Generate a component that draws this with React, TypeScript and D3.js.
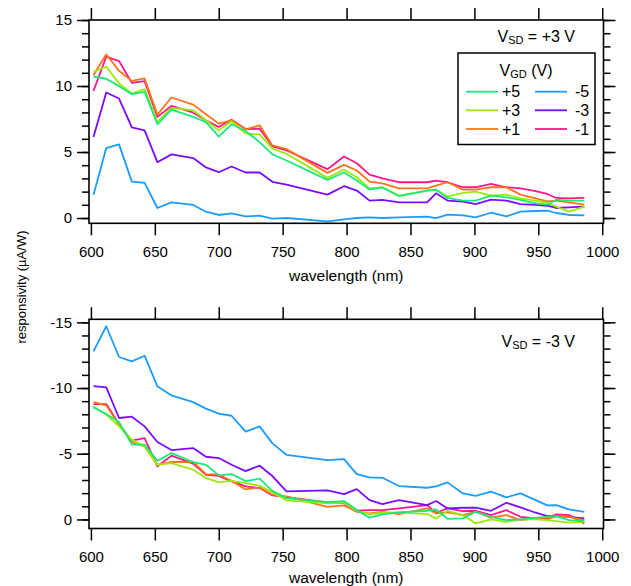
import { useEffect, useRef } from 'react';
import * as d3 from 'd3';

// wavelength grid (nm) shared by every trace
const wavelength = [602, 612, 622, 632, 642, 652, 663, 680, 690, 700, 710, 721, 732, 742, 753, 785, 798, 808, 818, 828, 841, 863, 870, 879, 891, 901, 913, 925, 936, 948, 957, 964, 974, 986];

const gateLabels = ['+5', '+3', '+1', '-5', '-3', '-1'];
const gateColors = ['#19e97c', '#97ec08', '#ff7417', '#1c9bff', '#7a0cff', '#ff168f'];

// V_SD = +3 V, responsivity (uA/W)
const posP5 = [10.72, 10.55, 9.99, 9.38, 9.56, 7.10, 8.21, 7.66, 7.27, 6.16, 7.10, 6.59, 5.75, 4.82, 4.36, 2.89, 3.45, 2.84, 2.15, 2.33, 1.65, 2.08, 2.15, 1.52, 1.32, 1.32, 1.70, 1.57, 1.37, 1.11, 1.01, 1.39, 1.32, 1.32];
const posP3 = [11.08, 11.46, 10.19, 9.43, 9.76, 7.27, 8.34, 8.16, 7.40, 6.64, 7.33, 6.39, 6.34, 5.25, 4.87, 3.04, 3.66, 3.09, 2.25, 2.33, 1.70, 2.08, 2.13, 1.62, 1.90, 2.00, 1.70, 1.77, 1.49, 1.32, 1.14, 0.86, 0.48, 0.86];
const posP1 = [10.82, 12.40, 11.15, 10.39, 10.57, 7.83, 9.13, 8.59, 7.86, 7.15, 7.40, 6.72, 7.02, 5.50, 5.22, 3.42, 4.03, 3.60, 2.76, 2.63, 2.25, 2.25, 2.46, 2.71, 2.15, 2.15, 2.33, 2.33, 1.77, 1.49, 1.26, 1.32, 1.19, 1.01];
const posM5 = [1.77, 5.30, 5.58, 2.76, 2.66, 0.76, 1.19, 0.99, 0.48, 0.23, 0.35, 0.13, 0.18, -0.05, 0.0, -0.25, -0.10, 0.0, 0.05, 0.0, 0.05, 0.10, 0.0, 0.25, 0.20, 0.05, 0.40, 0.12, 0.48, 0.53, 0.56, 0.38, 0.23, 0.20];
const posM3 = [6.13, 9.51, 9.05, 6.87, 6.64, 4.23, 4.82, 4.54, 3.83, 3.47, 3.90, 3.45, 3.45, 2.74, 2.53, 1.77, 2.41, 2.08, 1.32, 1.37, 1.19, 1.19, 1.87, 1.32, 1.24, 1.06, 1.39, 1.32, 1.06, 0.99, 0.93, 0.76, 0.81, 0.86];
const posM1 = [9.63, 12.22, 11.89, 10.24, 10.37, 7.66, 8.49, 7.98, 7.40, 6.89, 7.45, 6.74, 6.77, 5.42, 5.12, 3.70, 4.66, 4.15, 3.29, 3.01, 2.71, 2.71, 2.84, 2.71, 2.33, 2.33, 2.58, 2.33, 2.25, 2.03, 1.82, 1.52, 1.49, 1.52];

// V_SD = -3 V
const negP5 = [-8.53, -8.02, -7.41, -5.69, -5.69, -4.47, -5.05, -4.37, -4.16, -3.35, -3.45, -2.92, -3.10, -2.18, -1.62, -1.32, -1.40, -0.71, -0.13, -0.38, -0.53, -0.66, -0.76, -0.05, -0.08, -0.58, -0.20, 0.05, 0.0, -0.13, -0.20, -0.25, 0.05, 0.10];
const negP3 = [-8.60, -7.97, -7.08, -6.07, -5.56, -4.16, -4.29, -3.78, -3.15, -2.84, -2.94, -2.77, -2.56, -2.08, -1.45, -1.22, -1.29, -0.66, -0.41, -0.51, -0.53, -0.41, -0.08, -0.66, -0.33, 0.30, 0.0, 0.18, 0.0, 0.0, 0.05, 0.13, 0.25, 0.18];
const negP1 = [-8.93, -8.68, -7.21, -5.89, -5.56, -4.16, -4.37, -4.37, -3.45, -3.40, -2.94, -2.28, -2.44, -1.88, -1.75, -0.96, -1.07, -0.58, -0.46, -0.58, -0.41, -0.84, -0.46, -0.53, -0.33, -0.58, -0.13, -0.33, 0.05, -0.08, 0.0, -0.25, -0.20, 0.05];
const negM5 = [-12.79, -14.70, -12.36, -12.03, -12.46, -10.13, -9.44, -8.93, -8.43, -8.05, -7.89, -6.68, -7.08, -5.79, -4.92, -4.52, -4.59, -3.45, -3.20, -3.17, -2.54, -2.41, -2.51, -2.82, -1.98, -1.80, -2.11, -1.68, -1.98, -1.47, -1.07, -1.09, -0.76, -0.58];
const negM3 = [-10.15, -10.05, -7.72, -7.82, -7.08, -5.89, -5.28, -5.43, -4.77, -4.67, -4.16, -3.68, -4.09, -3.30, -2.13, -2.21, -1.93, -2.31, -1.47, -1.17, -1.47, -1.09, -1.40, -0.84, -0.89, -0.89, -0.66, -1.27, -0.91, -0.51, -0.25, -0.25, -0.20, -0.08];
const negM1 = [-8.78, -8.78, -7.26, -5.99, -6.19, -4.04, -4.85, -4.24, -3.40, -3.32, -2.89, -2.51, -2.39, -1.83, -1.70, -1.29, -1.25, -0.66, -0.71, -0.71, -0.84, -1.09, -0.51, -0.84, -0.63, -0.66, -0.33, -0.71, -0.20, -0.08, -0.08, -0.38, -0.33, 0.30];

const xTicks = [600, 650, 700, 750, 800, 850, 900, 950, 1000];
const topYTicks = [0, 5, 10, 15];
const bottomYTicks = [-15, -10, -5, 0];

const FONT = '"Liberation Sans", Arial, sans-serif';

const App = () => {
  const svgRef = useRef<SVGSVGElement>(null);

  useEffect(() => {
    const svg = d3.select(svgRef.current);
    svg.selectAll('*').remove();

    const left = 89;
    const right = 603.5;
    const x = d3.scaleLinear().domain([598.5, 1001]).range([left, right]);

    const panels = [
      {
        top: 20, bottom: 223.3, domain: [-0.4, 15], ticks: topYTicks, minor: d3.range(0, 16),
        series: [posM1, posM3, posM5, posP1, posP3, posP5],
        label: ' = +3 V', labelY: 36, xTitleY: 275,
      },
      {
        top: 319.3, bottom: 528.5, domain: [0.69, -15.23], ticks: bottomYTicks, minor: d3.range(-15, 1),
        series: [negM1, negM3, negM5, negP1, negP3, negP5],
        label: ' = -3 V', labelY: 341, xTitleY: 577,
      },
    ];
    // series arrays above are in colour order: -1, -3, -5, +1, +3, +5
    const seriesColor = [gateColors[5], gateColors[4], gateColors[3], gateColors[2], gateColors[1], gateColors[0]];
    const plain = (d: any) => String(d);

    panels.forEach((p) => {
      const y = d3.scaleLinear().domain(p.domain).range([p.bottom, p.top]);
      const g = svg.append('g');

      const styleAxis = (sel: any) => {
        sel.select('.domain').remove();
        sel.selectAll('line').attr('stroke', '#000').attr('stroke-width', 1.5);
        sel.selectAll('text').attr('fill', '#000').style('font-family', FONT).style('font-size', '15px');
      };

      g.append('g')
        .attr('transform', `translate(0,${p.bottom})`)
        .call(d3.axisBottom(x).tickValues(xTicks).tickSize(12).tickPadding(11).tickFormat(plain))
        .call(styleAxis);
      g.append('g')
        .attr('transform', `translate(0,${p.top})`)
        .call(d3.axisTop(x).tickValues(xTicks).tickSize(12).tickFormat(() => ''))
        .call(styleAxis);
      g.append('g')
        .attr('transform', `translate(${left},0)`)
        .call(d3.axisLeft(y).tickValues(p.minor).tickSize(7).tickFormat(() => ''))
        .call(styleAxis);
      g.append('g')
        .attr('transform', `translate(${left},0)`)
        .call(d3.axisLeft(y).tickValues(p.ticks).tickSize(12).tickPadding(5).tickFormat(plain))
        .call(styleAxis);
      g.append('g')
        .attr('transform', `translate(${right},0)`)
        .call(d3.axisRight(y).tickValues(p.minor).tickSize(7).tickFormat(() => ''))
        .call(styleAxis);
      g.append('g')
        .attr('transform', `translate(${right},0)`)
        .call(d3.axisRight(y).tickValues(p.ticks).tickSize(12).tickFormat(() => ''))
        .call(styleAxis);

      const line = d3
        .line<number>()
        .x((_, i) => x(wavelength[i]))
        .y((d) => y(d));

      p.series.forEach((s, i) => {
        g.append('path')
          .attr('d', line(s))
          .attr('fill', 'none')
          .attr('stroke', seriesColor[i])
          .attr('stroke-width', 1.8)
          .attr('stroke-linejoin', 'round');
      });

      g.append('rect')
        .attr('x', left)
        .attr('y', p.top)
        .attr('width', right - left)
        .attr('height', p.bottom - p.top)
        .attr('fill', 'none')
        .attr('stroke', '#000')
        .attr('stroke-width', 1.6);

      const vsd = g.append('text')
        .attr('x', 575)
        .attr('y', p.labelY)
        .attr('text-anchor', 'end')
        .attr('dominant-baseline', 'central')
        .style('font-family', FONT)
        .style('font-size', '16px');
      vsd.append('tspan').text('V');
      vsd.append('tspan').attr('dy', 4).style('font-size', '11px').text('SD');
      vsd.append('tspan').attr('dy', -4).text(p.label);

      g.append('text')
        .attr('x', (left + right) / 2)
        .attr('y', p.xTitleY)
        .attr('text-anchor', 'middle')
        .attr('dominant-baseline', 'central')
        .style('font-family', FONT)
        .style('font-size', '15.5px')
        .text('wavelength (nm)');
    });

    svg.append('text')
      .attr('transform', 'translate(21,287) rotate(-90)')
      .attr('text-anchor', 'middle')
      .attr('dominant-baseline', 'central')
      .style('font-family', FONT)
      .style('font-size', '13px')
      .text('responsivity (µA/W)');

    // legend
    const lg = svg.append('g');
    lg.append('rect')
      .attr('x', 458)
      .attr('y', 53)
      .attr('width', 137)
      .attr('height', 91.5)
      .attr('fill', '#fff')
      .attr('stroke', '#000')
      .attr('stroke-width', 1.5);
    const title = lg.append('text')
      .attr('x', 526)
      .attr('y', 70)
      .attr('text-anchor', 'middle')
      .attr('dominant-baseline', 'central')
      .style('font-family', FONT)
      .style('font-size', '16px');
    title.append('tspan').text('V');
    title.append('tspan').attr('dy', 4).style('font-size', '11px').text('GD');
    title.append('tspan').attr('dy', -4).text(' (V)');

    const rowY = [91.7, 110.3, 129];
    gateLabels.forEach((lab, i) => {
      const col = i < 3 ? 0 : 1;
      const ry = rowY[i % 3];
      const x0 = col === 0 ? 466 : 535;
      lg.append('line')
        .attr('x1', x0)
        .attr('x2', x0 + 32)
        .attr('y1', ry)
        .attr('y2', ry)
        .attr('stroke', gateColors[i])
        .attr('stroke-width', 1.8);
      lg.append('text')
        .attr('x', col === 0 ? 502 : 575)
        .attr('y', ry)
        .attr('dominant-baseline', 'central')
        .style('font-family', FONT)
        .style('font-size', '16px')
        .text(lab);
    });
  }, []);

  return (
    <svg
      ref={svgRef}
      width={631}
      height={586}
      style={{ position: 'absolute', left: 0, top: 0, background: '#fff' }}
    />
  );
};

export default App;
